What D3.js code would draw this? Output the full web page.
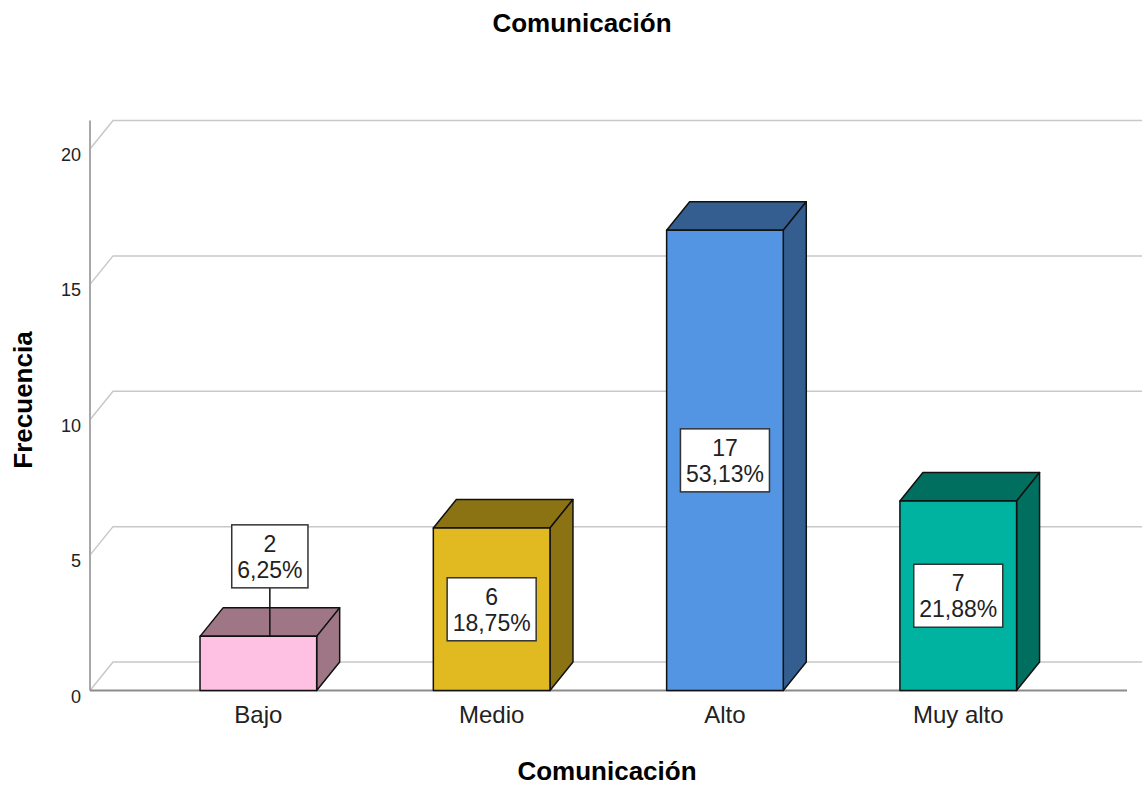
<!DOCTYPE html>
<html>
<head>
<meta charset="utf-8">
<script src="https://cdn.jsdelivr.net/npm/d3@7"></script>
<style>
  body { margin: 0; background: #fff; }
  text { font-family: "Liberation Sans", Arial, sans-serif; }
</style>
</head>
<body>
<div class="chart"></div>
<script>
var categories = ["Bajo", "Medio", "Alto", "Muy alto"];
var counts = [2, 6, 17, 7];
var percents = ["6,25%", "18,75%", "53,13%", "21,88%"];
var yTicks = [0, 5, 10, 15, 20];
var fronts = ["#ffc1e3", "#e1b920", "#5394e3", "#00b3a0"];
var sides = ["#9e7685", "#8b7313", "#355e90", "#006f60"];

var w = 1142, h = 785;
var dx = 23, dy = -28.5;

var svg = d3.select(".chart").append("svg")
            .attr("width", w)
            .attr("height", h);

var x = d3.scaleBand()
          .domain(categories)
          .range([141.7, 1074.9])
          .paddingInner(0.5)
          .paddingOuter(0.25);

var y = d3.scaleLinear()
          .domain([0, 20])
          .range([690.5, 149]);

// back wall gridlines
svg.selectAll(".grid")
   .data(yTicks)
   .enter().append("polyline")
   .attr("class", "grid")
   .attr("points", function(d) {
      return [[90, y(d)], [90 + dx, y(d) + dy], [w + 10, y(d) + dy]].join(" ");
   })
   .attr("fill", "none")
   .attr("stroke", "#c8c8c8")
   .attr("stroke-width", 1.5);

// y axis line and baseline
svg.append("line")
   .attr("x1", 90).attr("x2", 90)
   .attr("y1", y(20) + dy).attr("y2", y(0))
   .attr("stroke", "#a8a8a8").attr("stroke-width", 2);
svg.append("line")
   .attr("x1", 90).attr("x2", 1127)
   .attr("y1", y(0)).attr("y2", y(0))
   .attr("stroke", "#8c8c8c").attr("stroke-width", 2);

// tick labels
svg.selectAll(".tick")
   .data(yTicks)
   .enter().append("text")
   .attr("class", "tick")
   .attr("x", 81)
   .attr("y", function(d) { return y(d) + 12; })
   .attr("text-anchor", "end")
   .attr("font-size", 18)
   .attr("fill", "#222")
   .text(function(d) { return d; });

// bars
var bars = svg.selectAll(".bar")
   .data(counts)
   .enter().append("g")
   .attr("class", "bar");

bars.append("polygon")
   .attr("points", function(d, i) {
      var x0 = x(categories[i]), x1 = x0 + x.bandwidth(), yv = y(d);
      return [[x0, yv], [x0 + dx, yv + dy], [x1 + dx, yv + dy], [x1, yv]].join(" ");
   })
   .attr("fill", function(d, i) { return sides[i]; });

bars.append("polygon")
   .attr("points", function(d, i) {
      var x1 = x(categories[i]) + x.bandwidth(), yv = y(d), y0 = y(0);
      return [[x1, yv], [x1 + dx, yv + dy], [x1 + dx, y0 + dy], [x1, y0]].join(" ");
   })
   .attr("fill", function(d, i) { return sides[i]; });

bars.append("rect")
   .attr("x", function(d, i) { return x(categories[i]); })
   .attr("y", function(d) { return y(d); })
   .attr("width", x.bandwidth())
   .attr("height", function(d) { return y(0) - y(d); })
   .attr("fill", function(d, i) { return fronts[i]; });

bars.selectAll("polygon, rect")
   .attr("stroke", "#111")
   .attr("stroke-width", 1.5)
   .attr("stroke-linejoin", "round");

// value labels
var boxH = 63;
bars.each(function(d, i) {
   var g = d3.select(this);
   var cx = x(categories[i]) + x.bandwidth() / 2;
   var faceH = y(0) - y(d);
   var top;
   if (faceH > boxH + 10) {
      top = (y(d) + y(0)) / 2 - boxH / 2;
   } else {
      cx = cx + dx / 2;
      top = y(d) - 111.5;
      g.append("line")
       .attr("x1", cx).attr("x2", cx)
       .attr("y1", top + boxH).attr("y2", y(d))
       .attr("stroke", "#111").attr("stroke-width", 1.5);
   }
   var box = g.append("rect").attr("fill", "#fff").attr("stroke", "#333").attr("stroke-width", 1.5);
   var t1 = g.append("text").attr("x", cx).attr("y", top + 27)
             .attr("text-anchor", "middle").attr("font-size", 23).attr("fill", "#222").text(d);
   var t2 = g.append("text").attr("x", cx).attr("y", top + 53)
             .attr("text-anchor", "middle").attr("font-size", 23).attr("fill", "#222").text(percents[i]);
   var bw = Math.max(t1.node().getComputedTextLength(), t2.node().getComputedTextLength()) + 11;
   box.attr("x", cx - bw / 2).attr("y", top).attr("width", bw).attr("height", boxH);
});

// category labels
svg.selectAll(".cat")
   .data(categories)
   .enter().append("text")
   .attr("class", "cat")
   .attr("x", function(d) { return x(d) + x.bandwidth() / 2; })
   .attr("y", 723)
   .attr("text-anchor", "middle")
   .attr("font-size", 24)
   .attr("fill", "#222")
   .text(function(d) { return d; });

// titles
svg.append("text")
   .attr("x", 582).attr("y", 32)
   .attr("text-anchor", "middle")
   .attr("font-size", 26).attr("font-weight", "bold")
   .text("Comunicación");

svg.append("text")
   .attr("x", 607).attr("y", 780)
   .attr("text-anchor", "middle")
   .attr("font-size", 26).attr("font-weight", "bold")
   .text("Comunicación");

svg.append("text")
   .attr("transform", "translate(32,400) rotate(-90)")
   .attr("text-anchor", "middle")
   .attr("font-size", 26).attr("font-weight", "bold")
   .text("Frecuencia");
</script>
</body>
</html>
